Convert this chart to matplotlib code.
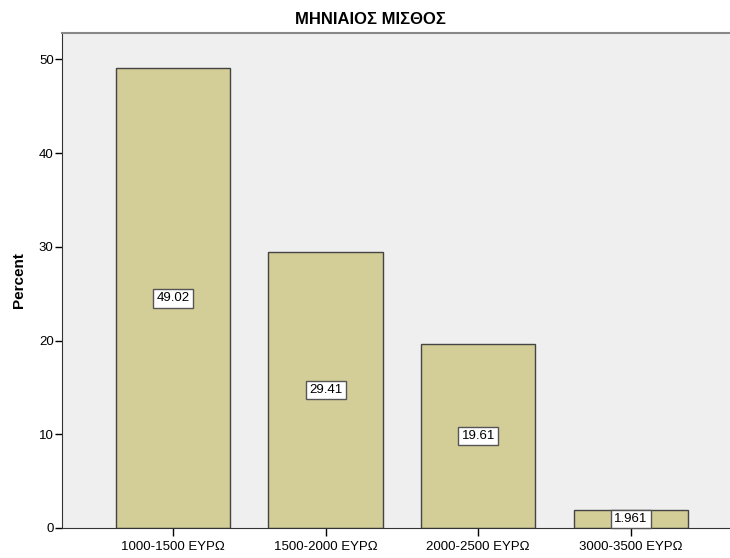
import matplotlib
matplotlib.use("Agg")
import matplotlib.pyplot as plt

categories = ["1000-1500 ΕΥΡΩ", "1500-2000 ΕΥΡΩ", "2000-2500 ΕΥΡΩ", "3000-3500 ΕΥΡΩ"]
percents = [49.02, 29.41, 19.61, 1.961]
labels = ["49.02", "29.41", "19.61", "1.961"]
yticks = [0, 10, 20, 30, 40, 50]

plt.rcParams['font.family'] = ['Liberation Sans', 'DejaVu Sans']

fig = plt.figure(figsize=(7.3, 5.58), dpi=100)
ax = fig.add_axes([62 / 730, 30 / 558, 668 / 730, 495 / 558])
ax.set_facecolor("#efefef")

x = list(range(len(categories)))
ax.bar(x, percents, width=0.75, color="#d3ce97", edgecolor="#444444", linewidth=1.0, zorder=2)

for xi, v, lab in zip(x, percents, labels):
    ax.text(xi, v / 2, lab, ha="center", va="center", fontsize=9.5, zorder=3,
            bbox=dict(boxstyle="square,pad=0.25", fc="white", ec="#555555", lw=1.0))

ax.set_xlim(-0.728, 3.65)
ax.set_ylim(0, 52.8)
ax.set_xticks(x)
ax.set_xticklabels(categories, fontsize=9.5)
ax.set_yticks(yticks)
ax.tick_params(axis="y", labelsize=9.5, length=5, width=1, direction="out", pad=1)
ax.tick_params(axis="x", length=6, width=1, direction="out", pad=3)
ax.set_ylabel("Percent", fontsize=11, fontweight="bold", labelpad=9)

fig.text(370 / 730, 1 - 20 / 558, "ΜΗΝΙΑΙΟΣ ΜΙΣΘΟΣ", ha="center", va="center",
         fontsize=12, fontweight="bold")

ax.spines["right"].set_visible(False)
ax.spines["top"].set_color("#888888")
ax.spines["top"].set_linewidth(1.5)
ax.spines["left"].set_color("#333333")
ax.spines["bottom"].set_color("#333333")

fig.savefig("out.png", dpi=100)
